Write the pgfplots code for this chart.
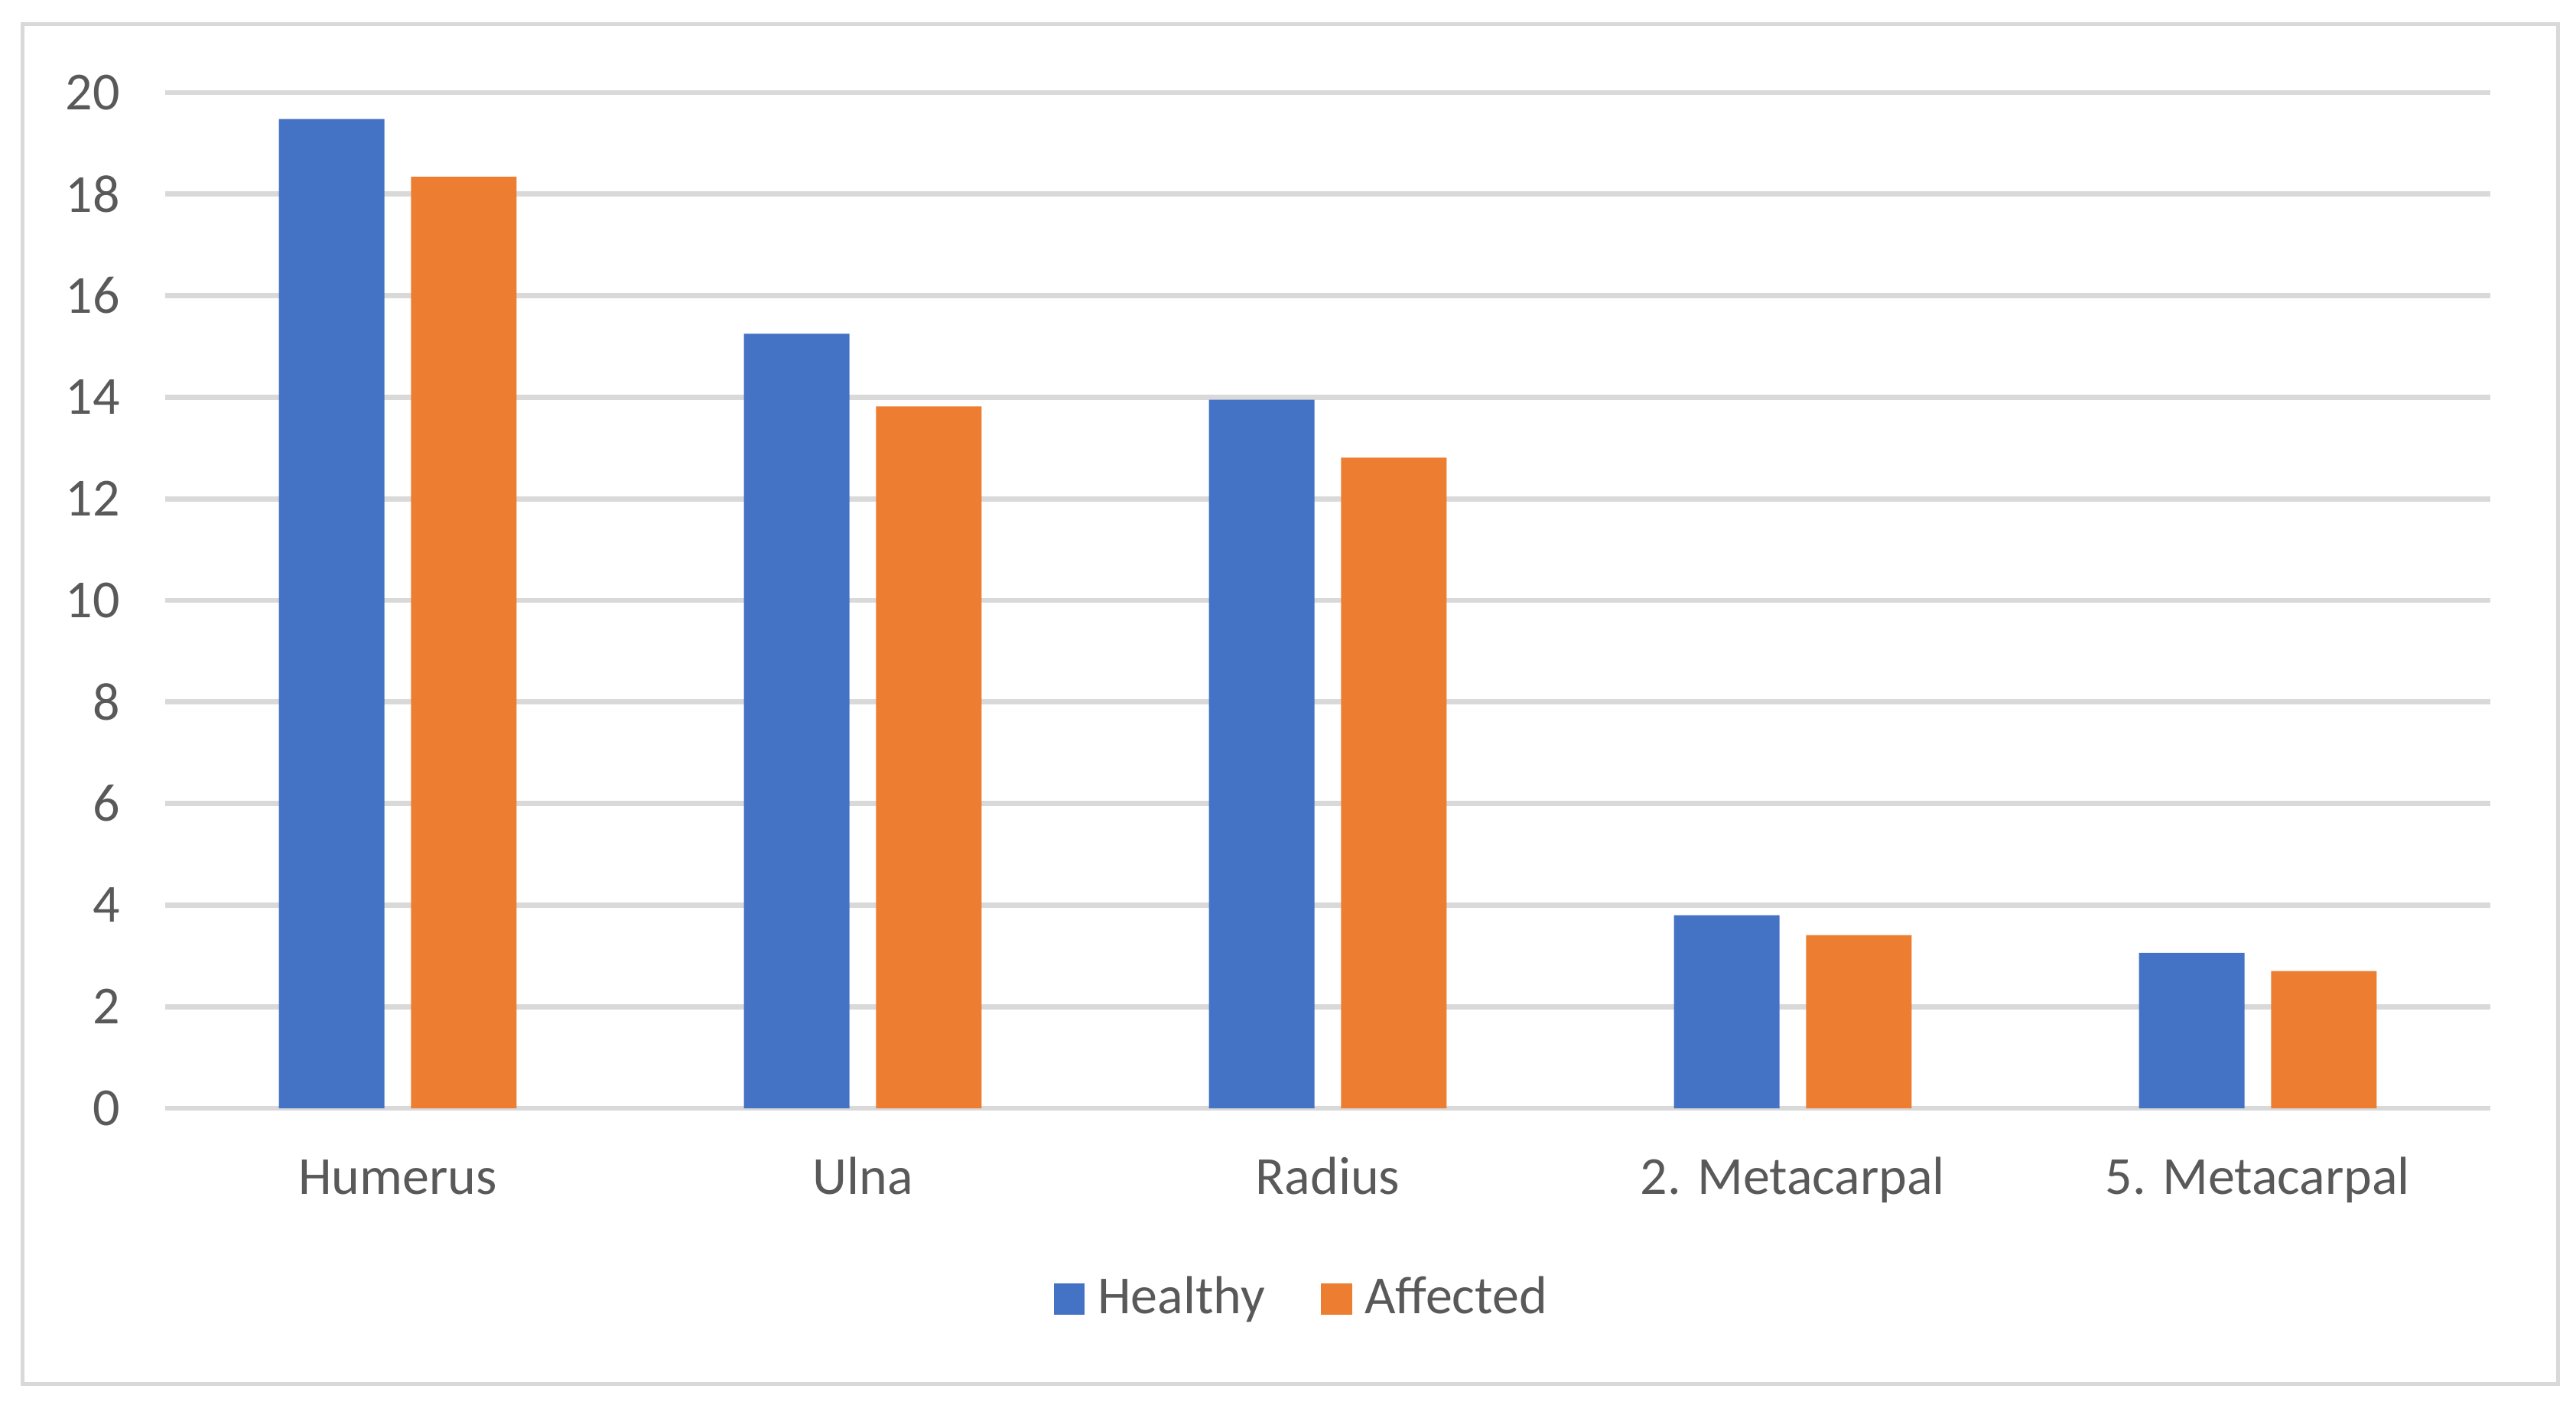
\documentclass[border=0pt]{standalone}
\usepackage{fontspec}
\setmainfont{Carlito}
\usepackage{pgfplots}
\pgfplotsset{compat=1.18}

\definecolor{healthy}{HTML}{4472C4}
\definecolor{affected}{HTML}{ED7D31}
\definecolor{gridgray}{HTML}{D9D9D9}
\definecolor{txtgray}{HTML}{595959}

\begin{document}
\begin{tikzpicture}
  \useasboundingbox (-32.4pt,-58.05pt) rectangle (472.8pt,217.35pt);
  \draw[gridgray, line width=0.75pt] (-27.9pt,-54pt) rectangle (469.2pt,212.55pt);
  \begin{axis}[
    at={(0pt,0pt)}, anchor=south west,
    scale only axis,
    width=456pt, height=199.2pt,
    font=\fontsize{10.5}{12}\selectfont,
    ybar=5.2pt, bar width=20.7pt,
    xmin=-0.5, xmax=4.5,
    ymin=0, ymax=20,
    xtick={0,1,2,3,4},
    xticklabels={Humerus, Ulna, Radius, 2. Metacarpal, 5. Metacarpal},
    ytick={0,2,...,20},
    major tick length=0pt,
    axis line style={draw=none},
    ymajorgrids=true,
    grid style={gridgray, line width=1pt},
    tick label style={text=txtgray},
    /pgf/number format/assume math mode=true,
    xticklabel style={anchor=base, inner sep=0pt, yshift=-16.9pt},
    yticklabel style={anchor=east, inner sep=0pt, xshift=-8.7pt},
    legend columns=2,
    legend style={draw=none, fill=none, at={(0.491,-0.188)}, anchor=center,
      text=txtgray, inner sep=0pt,
      nodes={inner ysep=1.3pt, inner xsep=2.5pt},
      /tikz/every even column/.append style={column sep=8.5pt}},
    legend image code/.code={\fill[#1] (0pt,-3.05pt) rectangle (6.1pt,3.05pt);},
  ]
    \addplot[fill=healthy, draw=none] coordinates {
      (0,19.48) (1,15.25) (2,13.95) (3,3.80) (4,3.06)
    };
    \addlegendentry{Healthy}
    \addplot[fill=affected, draw=none] coordinates {
      (0,18.34) (1,13.82) (2,12.81) (3,3.41) (4,2.70)
    };
    \addlegendentry{Affected}
  \end{axis}
\end{tikzpicture}
\end{document}
